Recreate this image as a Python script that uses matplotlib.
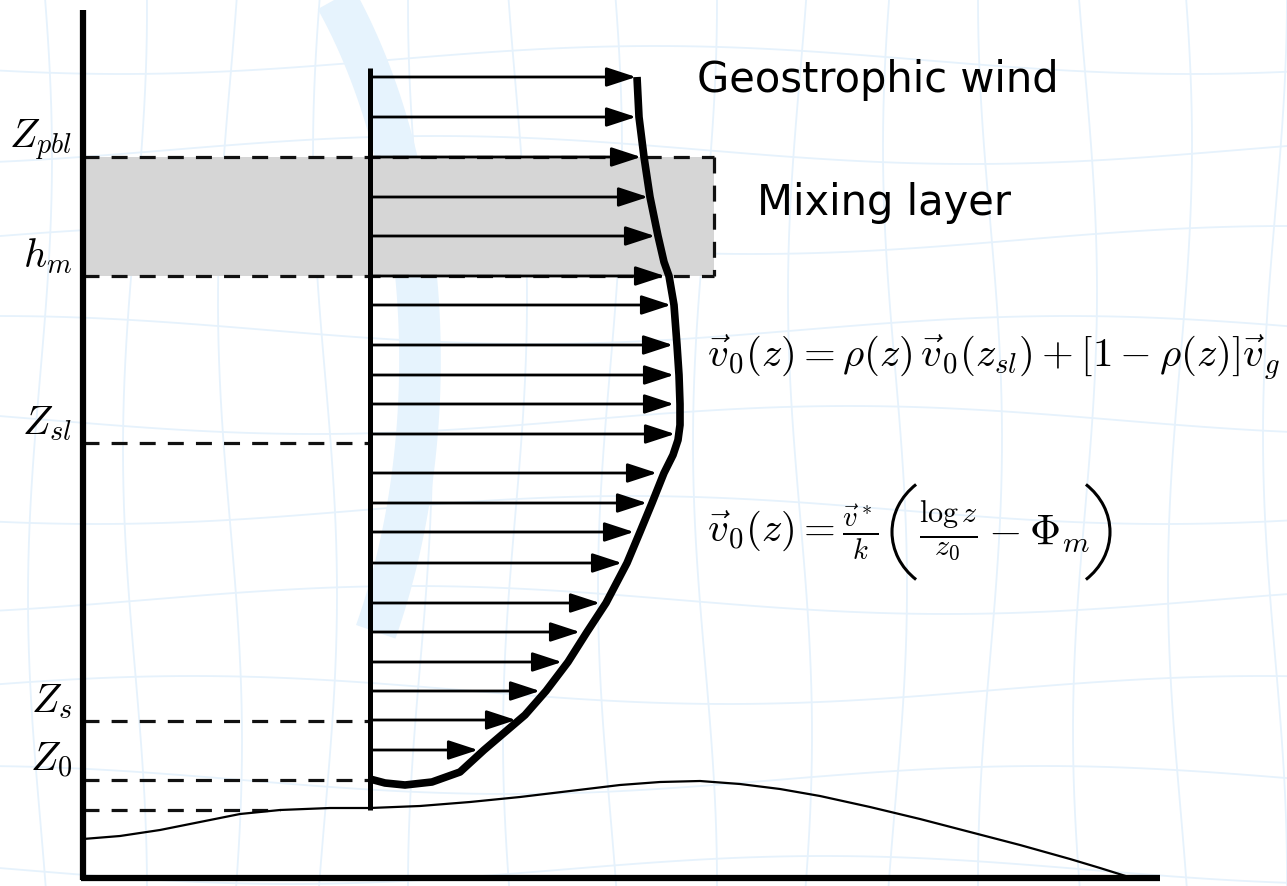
import numpy as np
import matplotlib.pyplot as plt
from matplotlib.patches import Rectangle, Arc

plt.rcParams['mathtext.fontset'] = 'cm'

# heights (image rows, top = 0) and wind arrow tips
arrow_z = [77, 117, 157, 197, 236, 276, 305, 345, 375, 404, 434,
           473, 503, 532, 563, 603, 632, 662, 691, 720, 750]
arrow_tip = [636, 636, 641, 648, 655, 665, 671, 673, 674, 674, 675,
             657, 647, 634, 622, 600, 580, 562, 540, 516, 478]

# thick wind profile curve
profile_z = [77, 117, 157, 197, 236, 262, 276, 305, 345, 375, 404, 425, 440, 455,
             473, 503, 532, 563, 603, 632, 662, 691, 715, 750, 772, 782, 785, 783, 779]
profile_x = [637, 639, 644, 650, 658, 664, 669, 674, 677, 679, 680, 680, 678, 673,
             664, 652, 640, 627, 606, 587, 568, 546, 525, 484, 460, 432, 405, 385, 370]

# terrain
ground_x = [83, 120, 160, 200, 240, 280, 330, 370, 420, 470, 520, 570, 620, 660,
            700, 740, 780, 820, 870, 920, 970, 1020, 1070, 1100, 1132]
ground_z = [839, 836, 830, 822, 814, 810, 808, 808, 806, 802, 797, 791, 785, 782,
            781, 784, 789, 796, 807, 819, 832, 845, 859, 868, 878]

# reference levels
level_names = [r'$Z_{pbl}$', r'$h_m$', r'$Z_{sl}$', r'$Z_s$', r'$Z_0$']
level_z = [157, 276, 443, 721, 780]
z_ground_ref = 810
mix_top, mix_bottom, mix_right = 157, 276, 714

x_axis, x_mast = 83, 370
z_top_axis, z_bottom = 10, 878
z_mast_top = 68

fig = plt.figure(figsize=(12.87, 8.86), dpi=100)
ax = fig.add_axes([0, 0, 1, 1])
ax.set_xlim(0, 1287)
ax.set_ylim(886, 0)
ax.axis('off')

# faint background mesh and watermark
mesh = '#e6f2fc'
for gx in range(40, 1300, 95):
    yy = np.linspace(0, 886, 50)
    ax.plot(gx + 12 * np.sin(yy / 140 + gx / 90), yy, color=mesh, lw=1.3, zorder=0)
for gy in range(60, 900, 90):
    xx = np.linspace(0, 1287, 80)
    ax.plot(xx, gy + 14 * np.sin(xx / 170 + gy / 70), color=mesh, lw=1.3, zorder=0)
t = np.linspace(-1.57, 0.55, 100)
ax.plot(120 + 300 * np.cos(t), 360 + 520 * np.sin(t), color='#e6f3fd', lw=30,
        solid_capstyle='butt', zorder=0.5)

# mixing layer band
ax.add_patch(Rectangle((x_axis, mix_top), mix_right - x_axis, mix_bottom - mix_top,
                       facecolor='#d6d6d6', edgecolor='none', zorder=1))

dash = (0, (5.0, 3.8))
dkw = dict(color='#111111', lw=2.3, ls=dash, zorder=2)
ax.plot([x_axis, mix_right], [mix_top, mix_top], **dkw)
ax.plot([x_axis, mix_right], [mix_bottom, mix_bottom], **dkw)
ax.plot([mix_right, mix_right], [mix_top, mix_bottom], **dkw)
for z in level_z[2:] + [z_ground_ref]:
    x_end = 280 if z == z_ground_ref else x_mast
    ax.plot([x_axis, x_end], [z, z], **dkw)

for name, z in zip(level_names, level_z):
    ax.text(72, z - 9, name, fontsize=29, ha='right', va='baseline', zorder=5)

# axes of the sketch
ax.plot([x_axis, x_axis], [z_top_axis, z_bottom + 2], color='black', lw=4.5,
        solid_capstyle='butt', zorder=4)
ax.plot([x_axis - 2, 1160], [z_bottom, z_bottom], color='black', lw=4.5,
        solid_capstyle='butt', zorder=4)
ax.plot([x_mast, x_mast], [z_mast_top, z_ground_ref], color='black', lw=3.6,
        solid_capstyle='butt', zorder=4)

# terrain line
ax.plot(ground_x, ground_z, color='black', lw=1.6, zorder=3)

# wind arrows
for z, xt in zip(arrow_z, arrow_tip):
    ax.annotate('', xy=(xt, z), xytext=(x_mast, z), zorder=5,
                arrowprops=dict(arrowstyle='-|>,head_length=0.55,head_width=0.18',
                                mutation_scale=33, lw=2, color='black',
                                shrinkA=0, shrinkB=0))

ax.plot(profile_x, profile_z, color='black', lw=5.5, solid_joinstyle='round',
        solid_capstyle='butt', zorder=6)

ax.text(697, 80, 'Geostrophic wind', fontsize=30, ha='left', va='center', zorder=5)
ax.text(757, 203, 'Mixing layer', fontsize=30, ha='left', va='center', zorder=5)

# profile formulas
ax.text(707, 358, r'$\vec{v}_0(z) = \rho(z)\,\vec{v}_0(z_{sl}) + [1 - \rho(z)]\vec{v}_g$',
        fontsize=29.5, ha='left', va='center', zorder=5)
eq_y = 532
ax.text(707, eq_y, r'$\vec{v}_0(z) = \frac{\vec{v}^*}{k}$',
        fontsize=29.5, ha='left', va='center', zorder=5)
ax.text(919, eq_y, r'$\frac{\log z}{z_0} - \Phi_m$',
        fontsize=31, ha='left', va='center', zorder=5)
# tall delimiters around the bracket term
ax.add_patch(Arc((962, eq_y), 140, 126, theta1=134, theta2=226, lw=2.2,
                 color='black', zorder=5))
ax.add_patch(Arc((1040, eq_y), 140, 126, theta1=-46, theta2=46, lw=2.2,
                 color='black', zorder=5))

fig.savefig('out.png', dpi=100)
